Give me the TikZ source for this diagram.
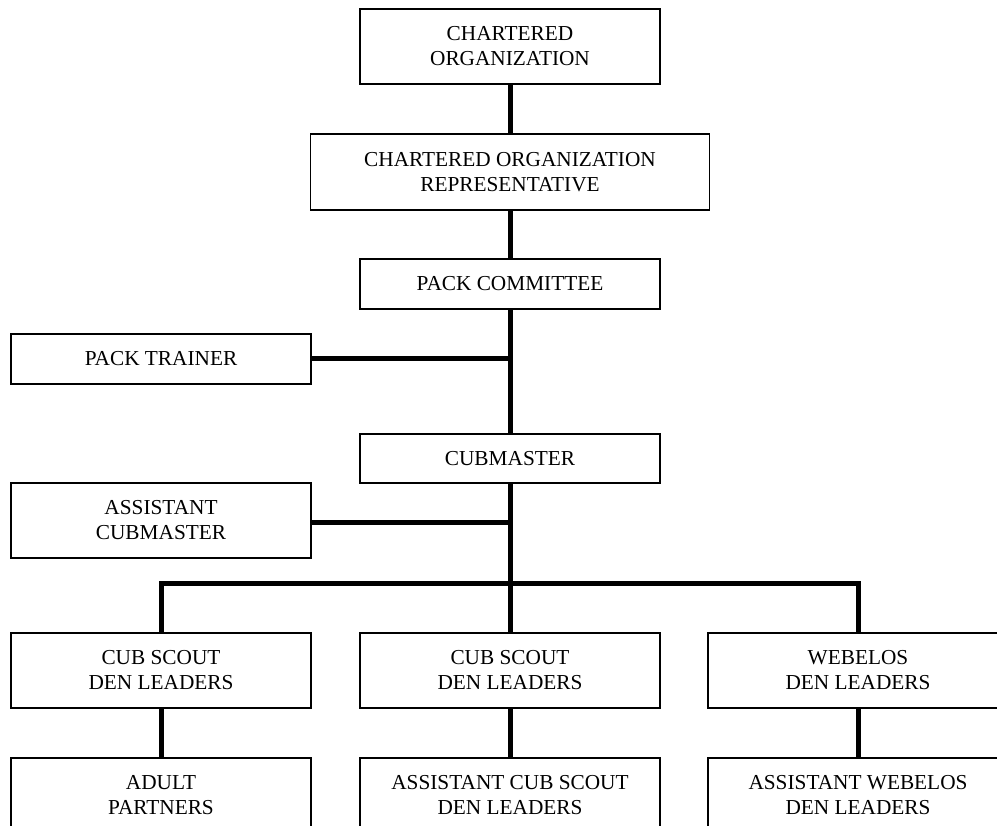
\documentclass[tikz,border=0pt]{standalone}
\usepackage{fontspec}
\setmainfont{Liberation Serif}
\begin{document}
\begin{tikzpicture}[x=1pt,y=-1pt,
  box/.style={draw=black,line width=1.3pt,rectangle,minimum width=300pt,align=center,inner sep=0pt,
    font=\fontsize{21.3}{25}\selectfont},
  tall/.style={box,minimum height=75pt},
  short/.style={box,minimum height=50pt},
  link/.style={line width=5pt}]
\useasboundingbox (0,0) rectangle (997,826);
\clip (0,0) rectangle (997,826);
\node[tall] (co) at (510,46.5) {CHARTERED\\ORGANIZATION};
\node[tall,minimum width=399pt,minimum height=76pt] (cor) at (510,172) {CHARTERED ORGANIZATION\\REPRESENTATIVE};
\node[short] (pc) at (510,284) {PACK COMMITTEE};
\node[short] (pt) at (161,359) {PACK TRAINER};
\node[short,minimum height=49pt] (cm) at (510,458.5) {CUBMASTER};
\node[tall] (acm) at (161,520.5) {ASSISTANT\\CUBMASTER};
\node[tall] (d1) at (161,670.5) {CUB SCOUT\\DEN LEADERS};
\node[tall] (d2) at (510,670.5) {CUB SCOUT\\DEN LEADERS};
\node[tall] (d3) at (858,670.5) {WEBELOS\\DEN LEADERS};
\node[tall] (b1) at (161,795.5) {ADULT\\PARTNERS};
\node[tall] (b2) at (510,795.5) {ASSISTANT CUB SCOUT\\DEN LEADERS};
\node[tall] (b3) at (858,795.5) {ASSISTANT WEBELOS\\DEN LEADERS};
\coordinate (busl) at (161,583);
\coordinate (busm) at (510,583);
\coordinate (busr) at (858,583);
\coordinate (j1) at (510,359);
\coordinate (j2) at (510,522);
\draw[link] (co.south) -- (cor.north);
\draw[link] (cor.south) -- (pc.north);
\draw[link] (pc.south) -- (cm.north);
\draw[link] (pt.east) -- (j1);
\draw[link] (acm.east |- j2) -- (j2);
\draw[link] (cm.south) -- (busm);
\draw[link,line cap=rect] (busl) -- (busr);
\draw[link] (busl) -- (d1.north);
\draw[link] (busm) -- (d2.north);
\draw[link] (busr) -- (d3.north);
\draw[link] (d1.south) -- (b1.north);
\draw[link] (d2.south) -- (b2.north);
\draw[link] (d3.south) -- (b3.north);
\end{tikzpicture}
\end{document}
